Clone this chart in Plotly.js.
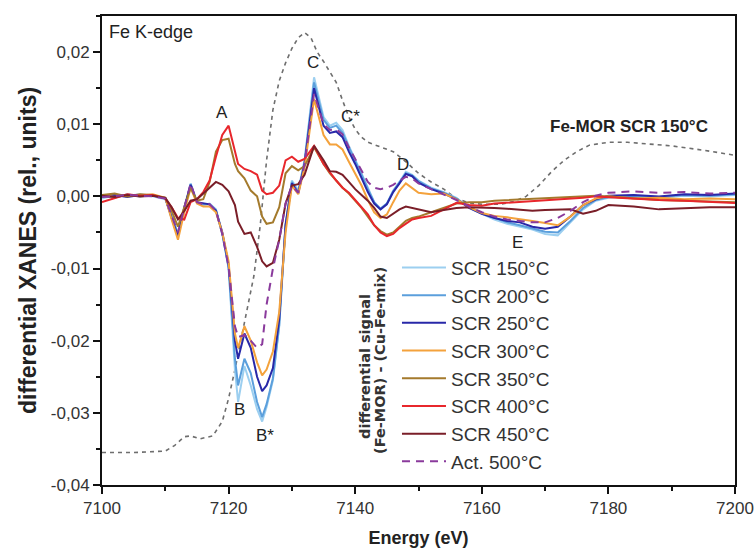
<!DOCTYPE html>
<html>
<head>
<meta charset="utf-8">
<script src="https://cdn.plot.ly/plotly-3.0.1.min.js"></script>
<style>html,body{margin:0;padding:0;background:#fff;}#chart{width:756px;height:553px;}</style>
</head>
<body>
<div id="chart"></div>
<script>
// Energy grid (eV) for the differential signals
var energy = [7100, 7102, 7104, 7106, 7108, 7110, 7111, 7112, 7113, 7114, 7115, 7116, 7117, 7118, 7119, 7120, 7121, 7121.5, 7122.5, 7123.5, 7124.5, 7125.3, 7126, 7127, 7128, 7129, 7130, 7131, 7132, 7133.5, 7135, 7136, 7137, 7138, 7139, 7140, 7141, 7142, 7143, 7144, 7145, 7146, 7147, 7148, 7149, 7150, 7152, 7154, 7156, 7158, 7160, 7162, 7164, 7166, 7168, 7170, 7172, 7174, 7176, 7178, 7180, 7184, 7188, 7192, 7196, 7200];

var scr150 = [-0.0003, 0.0002, 0.0001, 0.0003, 0.0000, -0.0004, -0.0025, -0.0052, -0.0020, 0.0018, -0.0008, -0.0012, -0.0010, -0.0018, -0.0050, -0.0100, -0.0240, -0.0285, -0.0235, -0.0262, -0.0295, -0.0312, -0.0292, -0.0255, -0.0180, -0.0040, 0.0022, 0.0008, 0.0050, 0.0165, 0.0110, 0.0098, 0.0102, 0.0092, 0.0070, 0.0052, 0.0032, 0.0012, -0.0008, -0.0018, -0.0010, 0.0008, 0.0020, 0.0034, 0.0030, 0.0022, 0.0012, 0.0006, -0.0002, -0.0016, -0.0024, -0.0032, -0.0038, -0.0042, -0.0046, -0.0052, -0.0054, -0.0036, -0.0018, -0.0006, -0.0002, 0.0000, -0.0002, 0.0001, 0.0000, 0.0002];
var scr200 = [0.0001, -0.0002, 0.0003, 0.0000, 0.0002, -0.0003, -0.0028, -0.0053, -0.0018, 0.0017, -0.0009, -0.0011, -0.0011, -0.0019, -0.0052, -0.0098, -0.0225, -0.0262, -0.0225, -0.0245, -0.0285, -0.0306, -0.0288, -0.0252, -0.0178, -0.0038, 0.0020, 0.0006, 0.0048, 0.0158, 0.0106, 0.0095, 0.0098, 0.0088, 0.0068, 0.0050, 0.0030, 0.0010, -0.0008, -0.0017, -0.0010, 0.0007, 0.0019, 0.0032, 0.0029, 0.0021, 0.0011, 0.0005, -0.0003, -0.0015, -0.0023, -0.0030, -0.0036, -0.0040, -0.0044, -0.0049, -0.0050, -0.0034, -0.0016, -0.0005, -0.0001, 0.0001, -0.0001, 0.0002, 0.0001, 0.0003];
var scr250 = [0.0000, 0.0002, -0.0001, 0.0002, 0.0001, -0.0002, -0.0030, -0.0055, -0.0015, 0.0016, -0.0008, -0.0010, -0.0011, -0.0020, -0.0050, -0.0095, -0.0200, -0.0225, -0.0190, -0.0210, -0.0250, -0.0270, -0.0262, -0.0238, -0.0170, -0.0040, 0.0018, 0.0004, 0.0045, 0.0150, 0.0098, 0.0088, 0.0090, 0.0082, 0.0062, 0.0045, 0.0025, 0.0006, -0.0010, -0.0018, -0.0011, 0.0006, 0.0018, 0.0031, 0.0028, 0.0019, 0.0010, 0.0004, -0.0004, -0.0016, -0.0024, -0.0030, -0.0034, -0.0036, -0.0042, -0.0045, -0.0042, -0.0028, -0.0012, -0.0004, 0.0001, 0.0002, 0.0000, 0.0003, 0.0002, 0.0004];
var scr300 = [0.0002, -0.0001, 0.0002, 0.0001, 0.0003, -0.0002, -0.0032, -0.0060, -0.0022, 0.0012, -0.0010, -0.0014, -0.0014, -0.0022, -0.0050, -0.0090, -0.0190, -0.0210, -0.0180, -0.0200, -0.0230, -0.0248, -0.0240, -0.0215, -0.0160, -0.0050, 0.0015, 0.0003, 0.0040, 0.0135, 0.0085, 0.0072, 0.0072, 0.0065, 0.0048, 0.0032, 0.0015, -0.0005, -0.0022, -0.0030, -0.0025, -0.0008, 0.0008, 0.0018, 0.0012, 0.0005, 0.0003, 0.0004, -0.0004, -0.0015, -0.0023, -0.0027, -0.0029, -0.0031, -0.0034, -0.0037, -0.0040, -0.0028, -0.0012, -0.0003, 0.0000, -0.0003, -0.0002, -0.0004, -0.0003, -0.0004];
var scr350 = [0.0002, 0.0004, 0.0000, 0.0003, 0.0002, -0.0002, -0.0020, -0.0042, -0.0015, 0.0012, -0.0006, -0.0004, 0.0020, 0.0062, 0.0078, 0.0080, 0.0045, 0.0035, 0.0025, 0.0008, 0.0000, -0.0028, -0.0038, -0.0036, -0.0015, 0.0032, 0.0042, 0.0036, 0.0042, 0.0068, 0.0045, 0.0032, 0.0022, 0.0012, 0.0004, -0.0006, -0.0016, -0.0028, -0.0040, -0.0048, -0.0053, -0.0050, -0.0042, -0.0034, -0.0030, -0.0028, -0.0022, -0.0016, -0.0010, -0.0008, -0.0008, -0.0006, -0.0005, -0.0004, -0.0003, -0.0003, -0.0002, -0.0001, 0.0000, 0.0001, 0.0000, -0.0003, -0.0005, -0.0006, -0.0007, -0.0008];
var scr400 = [-0.0008, -0.0002, 0.0003, 0.0001, 0.0002, -0.0003, -0.0015, -0.0030, -0.0032, -0.0008, -0.0004, 0.0006, 0.0022, 0.0055, 0.0085, 0.0098, 0.0065, 0.0045, 0.0038, 0.0035, 0.0030, 0.0008, 0.0003, 0.0005, 0.0015, 0.0050, 0.0055, 0.0048, 0.0052, 0.0070, 0.0045, 0.0033, 0.0022, 0.0012, 0.0005, -0.0005, -0.0015, -0.0025, -0.0040, -0.0050, -0.0055, -0.0052, -0.0044, -0.0038, -0.0032, -0.0030, -0.0027, -0.0018, -0.0009, -0.0012, -0.0013, -0.0010, -0.0009, -0.0008, -0.0007, -0.0005, -0.0004, -0.0004, -0.0002, 0.0000, -0.0001, -0.0004, -0.0005, -0.0006, -0.0007, -0.0009];
var scr450 = [0.0001, -0.0001, 0.0002, 0.0000, 0.0001, -0.0002, -0.0015, -0.0032, -0.0020, -0.0006, -0.0004, 0.0004, 0.0012, 0.0020, 0.0016, 0.0007, -0.0012, -0.0035, -0.0052, -0.0050, -0.0070, -0.0090, -0.0097, -0.0092, -0.0060, -0.0010, 0.0015, 0.0017, 0.0030, 0.0070, 0.0050, 0.0035, 0.0034, 0.0030, 0.0020, 0.0010, 0.0002, -0.0006, -0.0016, -0.0028, -0.0030, -0.0024, -0.0018, -0.0014, -0.0016, -0.0019, -0.0022, -0.0019, -0.0016, -0.0015, -0.0015, -0.0016, -0.0017, -0.0018, -0.0020, -0.0019, -0.0018, -0.0018, -0.0024, -0.0020, -0.0012, -0.0014, -0.0018, -0.0016, -0.0015, -0.0015];
var act500 = [-0.0001, 0.0001, 0.0002, 0.0001, 0.0000, -0.0003, -0.0028, -0.0050, -0.0016, 0.0018, -0.0008, -0.0011, -0.0011, -0.0020, -0.0052, -0.0098, -0.0180, -0.0195, -0.0192, -0.0200, -0.0210, -0.0205, -0.0150, -0.0100, -0.0060, -0.0010, 0.0015, 0.0005, 0.0045, 0.0142, 0.0100, 0.0092, 0.0093, 0.0086, 0.0068, 0.0052, 0.0035, 0.0020, 0.0012, 0.0010, 0.0012, 0.0016, 0.0022, 0.0027, 0.0025, 0.0018, 0.0010, 0.0003, -0.0005, -0.0014, -0.0022, -0.0028, -0.0032, -0.0034, -0.0036, -0.0036, -0.0030, -0.0020, -0.0008, 0.0001, 0.0005, 0.0007, 0.0005, 0.0006, 0.0004, 0.0005];

// Fe-MOR SCR 150 °C reference spectrum (scaled, dashed grey)
var refEnergy = [7100, 7105, 7110, 7111.5, 7113, 7114, 7115.5, 7117.5, 7119, 7120, 7121, 7122, 7123, 7124, 7125, 7126, 7127, 7128, 7129, 7130, 7131, 7132, 7133, 7134, 7135, 7136, 7137, 7138, 7139, 7140, 7141, 7142, 7144, 7146, 7148, 7150, 7152, 7154, 7156, 7158, 7160, 7163, 7165, 7167, 7169, 7171, 7173, 7175, 7177, 7180, 7183, 7186, 7190, 7195, 7200];
var refValue = [-0.0355, -0.0355, -0.0353, -0.0345, -0.0333, -0.0332, -0.0336, -0.0332, -0.0312, -0.0280, -0.0240, -0.0198, -0.0155, -0.0110, -0.0040, 0.0050, 0.0120, 0.0160, 0.0185, 0.0205, 0.0220, 0.0227, 0.0220, 0.0200, 0.0187, 0.0172, 0.0158, 0.0133, 0.0110, 0.0093, 0.0082, 0.0075, 0.0068, 0.0062, 0.0048, 0.0032, 0.0020, 0.0010, -0.0003, -0.0009, -0.0011, -0.0011, -0.0007, 0.0000, 0.0015, 0.0034, 0.0050, 0.0062, 0.0071, 0.0075, 0.0075, 0.0073, 0.0070, 0.0064, 0.0057];

var seriesNames = ['SCR 150°C', 'SCR 200°C', 'SCR 250°C', 'SCR 300°C', 'SCR 350°C', 'SCR 400°C', 'SCR 450°C', 'Act. 500°C'];
var seriesValues = [scr150, scr200, scr250, scr300, scr350, scr400, scr450, act500];
var seriesColors = ['#9ccff0', '#5b9fdc', '#2828a8', '#f4a23c', '#a47a2c', '#e8272c', '#7a1e28', '#8a3a9c'];

var yTickVals = [-0.04, -0.03, -0.02, -0.01, 0, 0.01, 0.02];
var yTickText = ['-0,04', '-0,03', '-0,02', '-0,01', '0,00', '0,01', '0,02'];

var peakLabels = ['A', 'B', 'B*', 'C', 'C*', 'D', 'E'];
var peakE = [7119.0, 7121.8, 7125.8, 7133.3, 7139.2, 7147.6, 7165.6];
var peakV = [0.0116, -0.0295, -0.0332, 0.0186, 0.0111, 0.0044, -0.0064];

var traces = [{
  x: refEnergy, y: refValue, type: 'scatter', mode: 'lines', showlegend: false,
  line: {color: '#6e6e6e', width: 1.6, dash: '4px,4px'}, hoverinfo: 'skip'
}];
for (var i = 0; i < seriesNames.length; i++) {
  traces.push({
    x: energy, y: seriesValues[i], type: 'scatter', mode: 'lines', name: seriesNames[i],
    line: {color: seriesColors[i], width: 2, dash: i === 7 ? '8px,6px' : 'solid'}
  });
}

var FONT = 'Liberation Sans, Arial, sans-serif';
var annotations = [];
for (var k = 0; k < peakLabels.length; k++) {
  annotations.push({x: peakE[k], y: peakV[k], xref: 'x', yref: 'y', text: peakLabels[k], showarrow: false,
    font: {family: FONT, size: 17, color: '#222'}});
}
annotations.push({x: 0.008, y: 0.966, xref: 'paper', yref: 'paper', xanchor: 'left', yanchor: 'middle', text: 'Fe K-edge', showarrow: false,
  font: {family: FONT, size: 18, color: '#222'}});
annotations.push({x: 7183.3, y: 0.0097, xref: 'x', yref: 'y', text: '<b>Fe-MOR SCR 150°C</b>', showarrow: false,
  font: {family: FONT, size: 17, color: '#222'}});
annotations.push({x: 0.4154, y: 0.2537, xref: 'paper', yref: 'paper', xanchor: 'center', yanchor: 'middle', textangle: -90, showarrow: false,
  text: '<b>differential signal</b>', font: {family: 'DejaVu Sans, sans-serif', size: 14.5, color: '#333'}});
annotations.push({x: 0.4391, y: 0.2665, xref: 'paper', yref: 'paper', xanchor: 'center', yanchor: 'middle', textangle: -90, showarrow: false,
  text: '<b>(Fe-MOR) - (Cu-Fe-mix)</b>', font: {family: 'DejaVu Sans, sans-serif', size: 14.5, color: '#333'}});

var layout = {
  width: 756, height: 553,
  margin: {l: 102, r: 21, t: 16, b: 68},
  paper_bgcolor: '#fff', plot_bgcolor: '#fff',
  font: {family: FONT, color: '#333'},
  showlegend: true,
  legend: {x: 0.466, y: 0.504, xanchor: 'left', yanchor: 'top', bgcolor: 'rgba(255,255,255,0)',
    font: {size: 19, color: '#333'}, tracegroupgap: 0, itemwidth: 44},
  xaxis: {
    range: [7100, 7200], dtick: 20, tick0: 7100, showgrid: false, zeroline: false,
    showline: true, linecolor: '#111', linewidth: 2, mirror: true,
    ticks: 'outside', ticklen: 7, tickwidth: 2, tickcolor: '#111',
    minor: {dtick: 10, ticks: 'outside', ticklen: 4, tickwidth: 2, tickcolor: '#111'},
    tickfont: {size: 17, color: '#333'},
    title: {text: '<b>Energy (eV)</b>', font: {size: 18, color: '#222'}, standoff: 14}
  },
  yaxis: {
    range: [-0.04, 0.025], tickvals: yTickVals, ticktext: yTickText, showgrid: false, zeroline: false,
    showline: true, linecolor: '#111', linewidth: 2, mirror: true,
    ticks: 'outside', ticklen: 7, tickwidth: 2, tickcolor: '#111',
    minor: {dtick: 0.005, ticks: 'outside', ticklen: 4, tickwidth: 2, tickcolor: '#111'},
    tickfont: {size: 17, color: '#333'},
    title: {text: '<b>differential XANES (rel., units)</b>', font: {size: 23, color: '#222'}, standoff: 8}
  },
  annotations: annotations
};

Plotly.newPlot('chart', traces, layout, {displayModeBar: false, staticPlot: true});
</script>
</body>
</html>
